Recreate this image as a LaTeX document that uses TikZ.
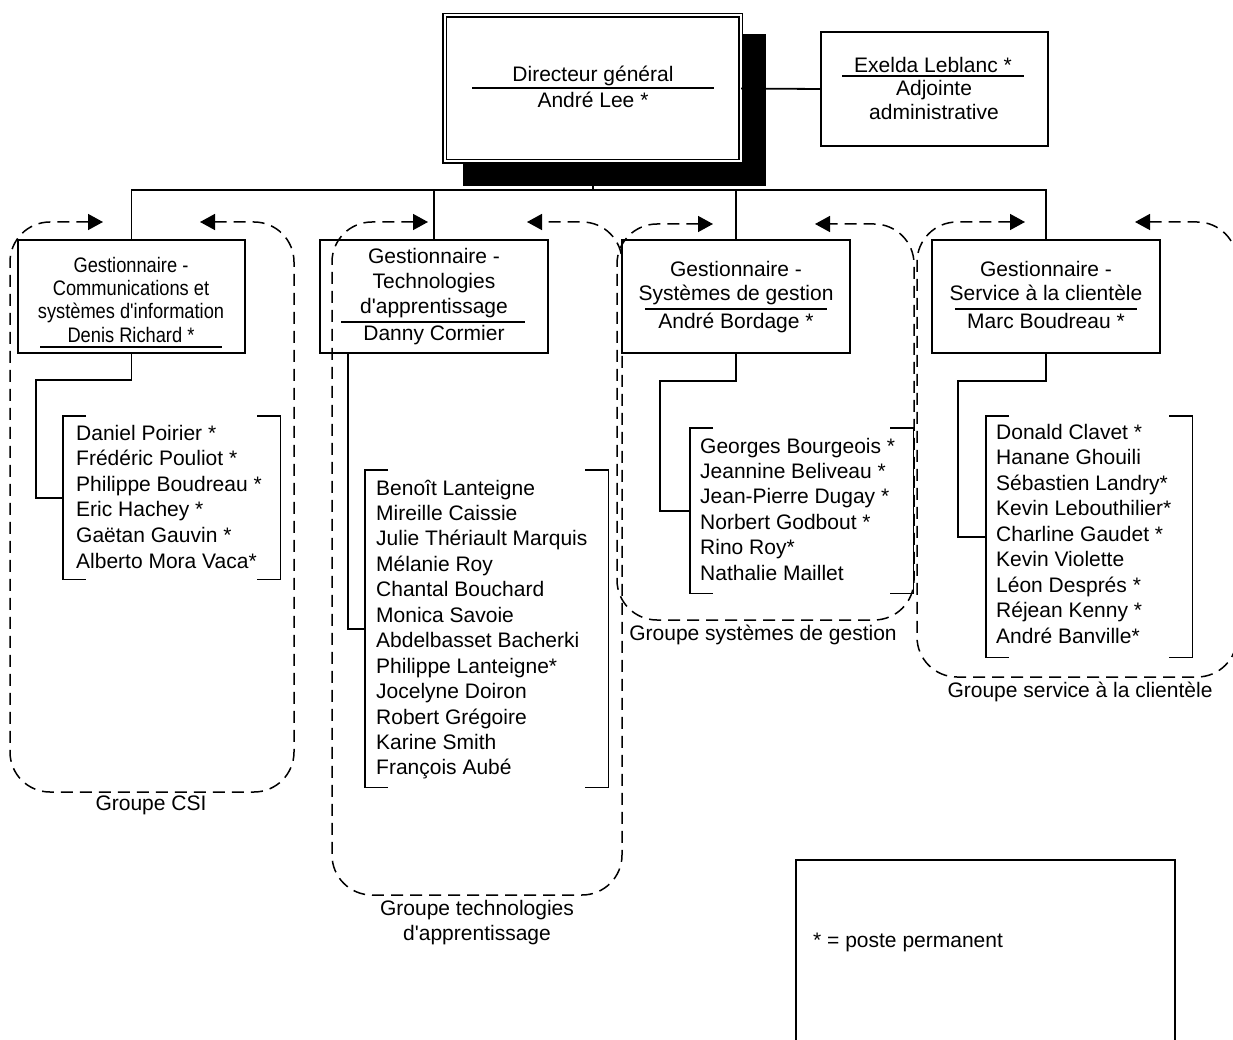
\documentclass[tikz,border=0pt]{standalone}
\usepackage{fontspec}
\setmainfont{Liberation Sans}
\newfontfamily\arial{Liberation Sans}
\usetikzlibrary{arrows.meta}
\begin{document}
\begin{tikzpicture}[x=1pt,y=-1pt,
  box/.style={draw, line width=1.8pt, fill=white, inner sep=0pt},
  conn/.style={line width=1.8pt},
  brk/.style={line width=1.8pt},
  uline/.style={line width=1.4pt},
  grp/.style={line width=1.5pt, dash pattern=on 12pt off 7pt, rounded corners=40pt,
    {Triangle[length=15pt,width=16pt]}-{Triangle[length=15pt,width=16pt]}},
  txt/.style={anchor=base, inner sep=0pt, font=\arial\fontsize{21}{25}\selectfont},
  lst/.style={txt, anchor=base west},
  area/.style={inner sep=0pt, anchor=north west},
]
\clip (0,0) rectangle (1233,1040);

% director with shadow
\fill[black] (463,34) rectangle (766,186);
\node[box, double, double distance=2pt, line width=1.4pt, minimum width=296pt, minimum height=146pt] (D) at (592.5,88.5) {};
\node[txt] (d1) at (593,82) {Directeur général};
\draw[uline] (472,88) -- (714,88);
\node[txt] (d2) at (593,108) {André Lee *};

% adjointe
\node[box, minimum width=227pt, minimum height=114pt] (E) at (934.5,89) {};
\node[txt] (e1) at (933,73) {Exelda Leblanc *};
\draw[uline] (842,76) -- (1024,76);
\node[txt] (e2) at (934,96) {Adjointe};
\node[txt] (e3) at (934,120) {administrative};
\draw[conn] (D.east) -- (E.west);

% managers
\node[box, minimum width=227pt, minimum height=113pt] (g1) at (131.5,296.5) {};
\node[box, minimum width=228pt, minimum height=113pt] (g2) at (434,296.5) {};
\node[box, minimum width=228pt, minimum height=113pt] (g3) at (736,296.5) {};
\node[box, minimum width=228pt, minimum height=113pt] (g4) at (1046,296.5) {};

% bus
\coordinate (bus) at (593,190);
\draw[conn] (g1.north) |- (bus) -| (g4.north);
\draw[conn] (g2.north) -- (g2.north |- bus);
\draw[conn] (g3.north) -- (g3.north |- bus);
\draw[conn] (D.south) -- (bus);

% box texts
\node[txt] (a1) at (131,273) {\scalebox{0.87}[1]{Gestionnaire -}};
\node[txt] (a2) at (131,296) {\scalebox{0.87}[1]{Communications et}};
\node[txt] (a3) at (131,319) {\scalebox{0.87}[1]{systèmes d'information}};
\node[txt] (a4) at (131,342) {\scalebox{0.87}[1]{Denis Richard *}};
\draw[uline] (40,347) -- (222,347);

\node[txt] (b1) at (434,264) {Gestionnaire -};
\node[txt] (b2) at (434,289) {Technologies};
\node[txt] (b3) at (434,314) {d'apprentissage};
\draw[uline] (341,322) -- (525,322);
\node[txt] (b4) at (434,340) {Danny Cormier};

\node[txt] (c1) at (736,277) {Gestionnaire -};
\node[txt] (c2) at (736,301) {Systèmes de gestion};
\draw[uline] (645,309) -- (827,309);
\node[txt] (c3) at (736,328) {André Bordage *};

\node[txt] (f1) at (1046,277) {Gestionnaire -};
\node[txt] (f2) at (1046,301) {Service à la clientèle};
\draw[uline] (955,309) -- (1137,309);
\node[txt] (f3) at (1046,328) {Marc Boudreau *};

% list areas
\node[area, minimum width=217pt, minimum height=163pt] (l1) at (63,416) {};
\node[area, minimum width=243pt, minimum height=317pt] (l2) at (365,470) {};
\node[area, minimum width=223pt, minimum height=165pt] (l3) at (690,428) {};
\node[area, minimum width=206pt, minimum height=241pt] (l4) at (986,416) {};
\foreach \l in {l1,l2,l3,l4}{
  \draw[brk] ([xshift=23pt]\l.north west) -- (\l.north west) -- (\l.south west) -- ([xshift=23pt]\l.south west);
  \draw[brk] ([xshift=-23pt]\l.north east) -- (\l.north east) -- (\l.south east) -- ([xshift=-23pt]\l.south east);
}

% connectors to lists
\coordinate (j1) at (36,380);
\draw[conn] (g1.south) |- (j1) |- (l1.west);
\coordinate (s2) at (348,353);
\draw[conn] (s2) |- (l2.west);
\coordinate (j3) at (660,381);
\draw[conn] (g3.south) |- (j3) |- (l3.west);
\coordinate (j4) at (958,381);
\draw[conn] (g4.south) |- (j4) |- (l4.west);

% names
\foreach \n [count=\i from 0] in {Daniel Poirier *, Frédéric Pouliot *, Philippe Boudreau *, Eric Hachey *, Gaëtan Gauvin *, Alberto Mora Vaca*}
  \node[lst] (n1-\i) at (76,440+25.6*\i) {\n};
\foreach \n [count=\i from 0] in {Benoît Lanteigne, Mireille Caissie, Julie Thériault Marquis, Mélanie Roy, Chantal Bouchard, Monica Savoie, Abdelbasset Bacherki, Philippe Lanteigne*, Jocelyne Doiron, Robert Grégoire, Karine Smith, François Aubé}
  \node[lst] (n2-\i) at (376,495+25.45*\i) {\n};
\foreach \n [count=\i from 0] in {Georges Bourgeois *, Jeannine Beliveau *, Jean-Pierre Dugay *, Norbert Godbout *, Rino Roy*, Nathalie Maillet}
  \node[lst] (n3-\i) at (700,453+25.4*\i) {\n};
\foreach \n [count=\i from 0] in {Donald Clavet *, Hanane Ghouili, Sébastien Landry*, Kevin Lebouthilier*, Charline Gaudet *, Kevin Violette, Léon Després *, Réjean Kenny *, André Banville*}
  \node[lst] (n4-\i) at (996,439+25.5*\i) {\n};

% groups
\draw[grp] (103,222) -- (10,222) -- (10,792) -- (294,792) -- (294,222) -- (200,222);
\draw[grp] (428,222) -- (332,222) -- (332,895) -- (622,895) -- (622,222) -- (527,222);
\draw[grp] (713,224) -- (617,224) -- (617,620) -- (914,620) -- (914,224) -- (815,224);
\draw[grp] (1025,222) -- (917,222) -- (917,677) -- (1237,677) -- (1237,222) -- (1135,222);
\node[txt] (gl1) at (151,810) {Groupe CSI};
\node[txt] (gl2) at (477,915) {Groupe technologies};
\node[txt] (gl2b) at (477,940) {d'apprentissage};
\node[txt] (gl3) at (763,640) {Groupe systèmes de gestion};
\node[txt] (gl4) at (1080,697) {Groupe service à la clientèle};

% legend
\node[box, anchor=north west, minimum width=379pt, minimum height=200pt] (L) at (795,859) {};
\node[lst] (lt) at (813,947) {* = poste permanent};
\end{tikzpicture}
\end{document}
